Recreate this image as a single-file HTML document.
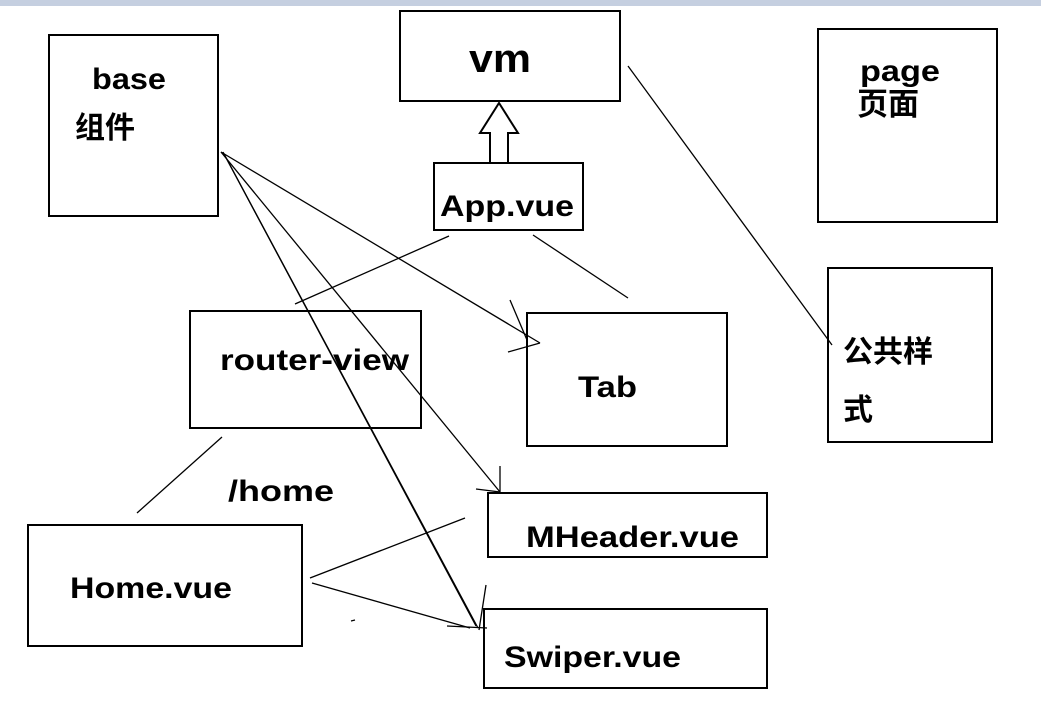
<!DOCTYPE html>
<html><head><meta charset="utf-8"><style>
html,body{margin:0;padding:0;background:#fff;}
svg{display:block;}
text{font-family:"Liberation Sans","Noto Sans CJK SC",sans-serif;font-weight:bold;fill:#000;}
</style></head><body>
<svg width="1041" height="704" viewBox="0 0 1041 704" xmlns="http://www.w3.org/2000/svg">
<rect x="0" y="0" width="1041" height="6" fill="#c5cfe0"/>
<g fill="none" stroke="#000" stroke-width="2">
<rect x="49" y="35" width="169" height="181"/>
<rect x="400" y="11" width="220" height="90"/>
<rect x="818" y="29" width="179" height="193"/>
<rect x="434" y="163" width="149" height="67"/>
<rect x="190" y="311" width="231" height="117"/>
<rect x="527" y="313" width="200" height="133"/>
<rect x="828" y="268" width="164" height="174"/>
<rect x="28" y="525" width="274" height="121"/>
<rect x="488" y="493" width="279" height="64"/>
<rect x="484" y="609" width="283" height="79"/>
</g>
<g fill="none" stroke="#000" stroke-width="1.3">
<polyline points="490,163 490,133 480,133 499,103 518,133 508,133 508,163" stroke-width="2"/>
<line x1="221" y1="152" x2="540" y2="343"/>
<line x1="221" y1="152" x2="500" y2="492"/>
<line x1="224" y1="154" x2="478" y2="628"/>
<line x1="223" y1="152" x2="476" y2="626"/>
<line x1="449" y1="236" x2="295" y2="304"/>
<line x1="533" y1="235" x2="628" y2="298"/>
<line x1="628" y1="66" x2="832" y2="345"/>
<line x1="222" y1="437" x2="137" y2="513"/>
<line x1="310" y1="578" x2="465" y2="518"/>
<line x1="312" y1="583" x2="470" y2="628"/>
<line x1="510" y1="300" x2="527" y2="340"/>
<line x1="508" y1="352" x2="540" y2="343"/>
<line x1="500" y1="466" x2="500" y2="494"/>
<line x1="476" y1="489" x2="500" y2="492"/>
<line x1="486" y1="585" x2="479" y2="630"/>
<line x1="447" y1="626" x2="487" y2="628"/>
<line x1="351" y1="621" x2="355" y2="620"/>
</g>
<text x="92" y="89" font-size="30" textLength="74" lengthAdjust="spacingAndGlyphs">base</text>
<text x="75" y="138" font-size="30">组件</text>
<text x="469" y="72" font-size="40" textLength="62" lengthAdjust="spacingAndGlyphs">vm</text>
<text x="860" y="81" font-size="30" textLength="80" lengthAdjust="spacingAndGlyphs">page</text>
<text x="857" y="115" font-size="31">页面</text>
<text x="440" y="216" font-size="30" textLength="134" lengthAdjust="spacingAndGlyphs">App.vue</text>
<text x="220" y="370" font-size="30" textLength="189" lengthAdjust="spacingAndGlyphs">router-view</text>
<text x="578" y="397" font-size="30" textLength="59" lengthAdjust="spacingAndGlyphs">Tab</text>
<text x="843" y="362" font-size="30">公共样</text>
<text x="843" y="420" font-size="30">式</text>
<text x="228" y="501" font-size="30" textLength="106" lengthAdjust="spacingAndGlyphs">/home</text>
<text x="526" y="547" font-size="30" textLength="213" lengthAdjust="spacingAndGlyphs">MHeader.vue</text>
<text x="70" y="598" font-size="30" textLength="162" lengthAdjust="spacingAndGlyphs">Home.vue</text>
<text x="504" y="667" font-size="30" textLength="177" lengthAdjust="spacingAndGlyphs">Swiper.vue</text>
</svg>
</body></html>
